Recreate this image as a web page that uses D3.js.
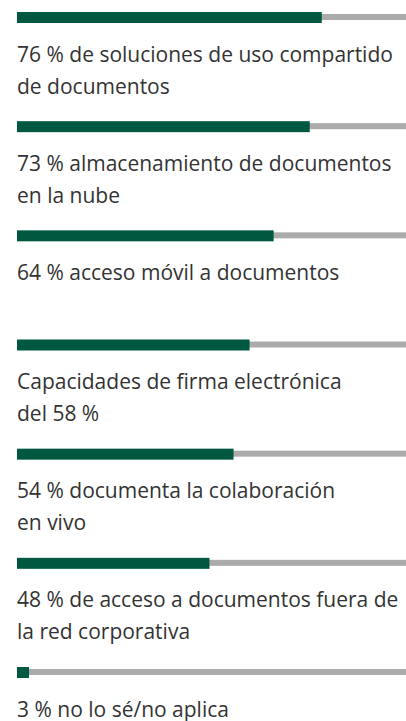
<!DOCTYPE html>
<html>
<head>
<meta charset="utf-8">
<script src="https://cdn.jsdelivr.net/npm/d3@7"></script>
<style>
  html, body { margin: 0; padding: 0; background: #fff; }
  svg { display: block; }
</style>
</head>
<body>
<svg id="chart" width="406" height="721"></svg>
<script>
const categories = ["c1", "c2", "c3", "c4", "c5", "c6", "c7"];
const values = [76, 73, 64, 58, 54, 48, 3];
const labels = [
  ["76 % de soluciones de uso compartido", "de documentos"],
  ["73 % almacenamiento de documentos", "en la nube"],
  ["64 % acceso móvil a documentos"],
  ["Capacidades de firma electrónica", "del 58 %"],
  ["54 % documenta la colaboración", "en vivo"],
  ["48 % de acceso a documentos fuera de", "la red corporativa"],
  ["3 % no lo sé/no aplica"]
];

const svg = d3.select("#chart");
const x = d3.scaleLinear().domain([0, 100]).range([17, 418]);
const y = d3.scalePoint().domain(categories).range([12, 667]);

const g = svg.selectAll("g.row")
  .data(categories.map((c, i) => ({ c, v: values[i], lines: labels[i] })))
  .join("g")
  .attr("class", "row")
  .attr("transform", d => `translate(0,${y(d.c)})`);

g.append("rect")
  .attr("x", x(0))
  .attr("y", 2)
  .attr("width", x(100) - x(0))
  .attr("height", 6)
  .attr("fill", "#ababab");

g.append("rect")
  .attr("x", x(0))
  .attr("y", 0)
  .attr("width", d => x(d.v) - x(0))
  .attr("height", 11)
  .attr("fill", "#005840");

g.each(function(d) {
  const t = d3.select(this).append("text")
    .attr("font-family", "'Open Sans', sans-serif")
    .attr("font-size", 21)
    .attr("fill", "#333333");
  d.lines.forEach((ln, i) => {
    t.append("tspan").attr("x", 17).attr("y", 49.5 + i * 32).text(ln);
  });
});
</script>
</body>
</html>
